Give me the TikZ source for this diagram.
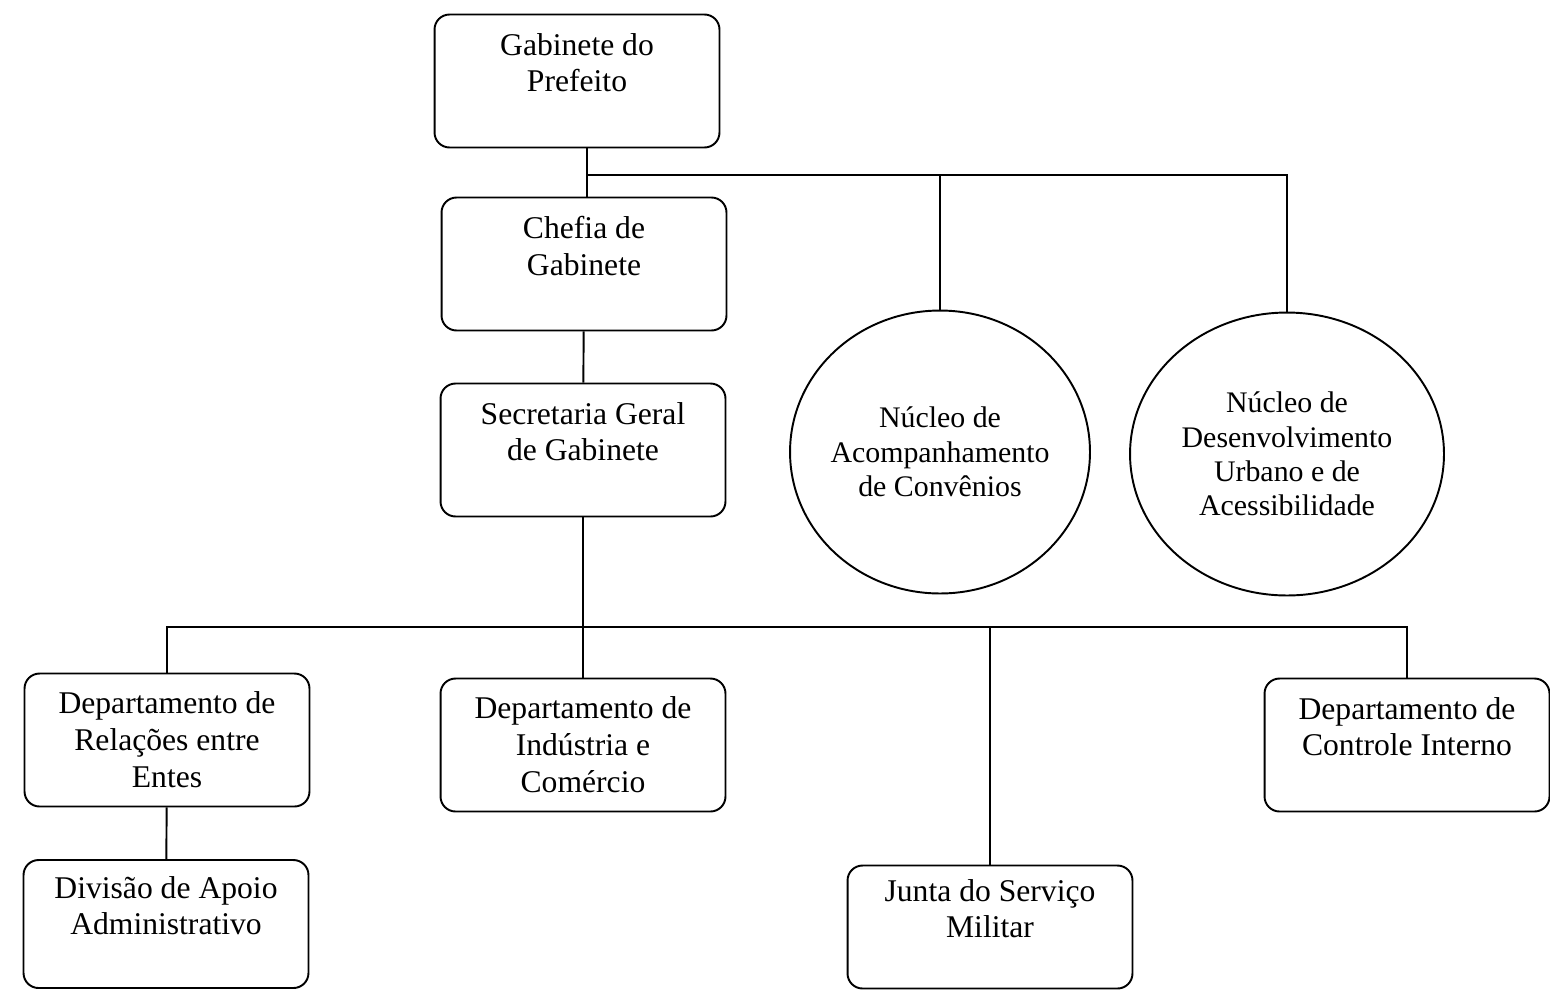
\documentclass[tikz,border=0pt]{standalone}
\usepackage{fontspec}
\setmainfont{Liberation Serif}
\usetikzlibrary{shapes.geometric}

\begin{document}
\begin{tikzpicture}[x=0.02cm, y=-0.02cm, line width=1.1pt,
	unit/.style={draw, rounded corners=0.3cm, minimum width=5.7cm, minimum height=2.66cm,
		align=center, font=\fontsize{18}{21}\selectfont},
	nucleo/.style={draw, ellipse, inner sep=-0.5cm, align=center,
		font=\fontsize{17}{19.5}\selectfont}]
	
	\useasboundingbox (0,0) rectangle (1550,991);
	
	\node[unit] (gab) at (577,81) {Gabinete do\\Prefeito\\\mbox{}};
	\node[unit] (chefia) at (584,264) {Chefia de\\Gabinete\\\mbox{}};
	\node[unit] (sec) at (583,450) {Secretaria Geral\\de Gabinete\\\mbox{}};
	\node[nucleo, minimum width=6cm, minimum height=5.66cm] (conv) at (940,452) {Núcleo de\\Acompanhamento\\de Convênios};
	\node[nucleo, minimum width=6.28cm, minimum height=5.66cm] (urb) at (1287,454) {Núcleo de\\Desenvolvimento\\Urbano e de\\Acessibilidade};
	\node[unit] (rel) at (167,740) {Departamento de\\Relações entre\\Entes};
	\node[unit] (ind) at (583,745) {Departamento de\\Indústria e\\Comércio};
	\node[unit] (ctrl) at (1407,745) {Departamento de\\Controle Interno\\\mbox{}};
	\node[unit, minimum height=2.46cm] (junta) at (990,927) {Junta do Serviço\\Militar\\\mbox{}};
	\node[unit, minimum height=2.56cm] (div) at (166,924) {Divisão de Apoio\\Administrativo\\\mbox{}};
	
	\coordinate (topbar) at (587,175);
	\coordinate (lowbar) at (583,627);
	
	\draw (gab.south -| topbar) -- (chefia.north -| topbar);
	\draw (topbar) -| (conv.north);
	\draw (topbar) -| (urb.north);
	\draw (chefia) -- (sec);
	\draw (sec) -- (ind);
	\draw (rel.north) -- (rel.north |- lowbar) -- (ctrl.north |- lowbar) -- (ctrl.north);
	\draw (junta.north) -- (junta.north |- lowbar);
	\draw (rel) -- (div);
	
\end{tikzpicture}
\end{document}
